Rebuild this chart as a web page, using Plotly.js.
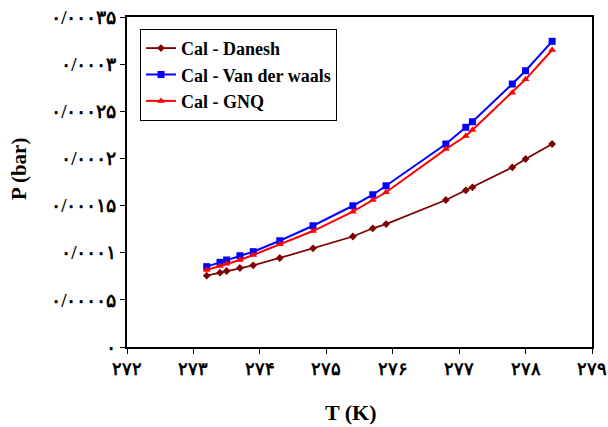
<!DOCTYPE html>
<html>
<head>
<meta charset="utf-8">
<script src="https://cdn.plot.ly/plotly-3.0.1.min.js"></script>
<style>html,body{margin:0;padding:0;background:#fff;}</style>
</head>
<body>
<div id="chart" style="width:608px;height:427px;"></div>
<script>
var T = [273.2, 273.4, 273.5, 273.7, 273.9, 274.3, 274.8, 275.4, 275.7, 275.9, 276.8, 277.1, 277.2, 277.8, 278.0, 278.4];
var pDanesh = [7.56e-5, 7.88e-5, 8.06e-5, 8.38e-5, 8.66e-5, 9.44e-5, 10.47e-5, 11.72e-5, 12.59e-5, 13.04e-5, 15.59e-5, 16.62e-5, 16.94e-5, 19.06e-5, 19.94e-5, 21.53e-5];
var pVdw = [8.52e-5, 8.98e-5, 9.23e-5, 9.68e-5, 10.11e-5, 11.27e-5, 12.86e-5, 14.98e-5, 16.15e-5, 17.10e-5, 21.53e-5, 23.30e-5, 23.89e-5, 27.89e-5, 29.30e-5, 32.42e-5];
var pGnq = [8.17e-5, 8.59e-5, 8.83e-5, 9.23e-5, 9.76e-5, 10.89e-5, 12.30e-5, 14.35e-5, 15.59e-5, 16.41e-5, 20.99e-5, 22.38e-5, 23.01e-5, 26.97e-5, 28.39e-5, 31.50e-5];
var seriesNames = ['Cal - Danesh', 'Cal - Van der waals', 'Cal - GNQ'];
var xTickVals = [272, 273, 274, 275, 276, 277, 278, 279];
var xTickText = ['۲۷۲', '۲۷۳', '۲۷۴', '۲۷۵', '۲۷۶', '۲۷۷', '۲۷۸', '۲۷۹'];
var yTickVals = [0, 0.00005, 0.0001, 0.00015, 0.0002, 0.00025, 0.0003, 0.00035];
var yTickText = ['۰', '۰/۰۰۰۰۵', '۰/۰۰۰۱', '۰/۰۰۰۱۵', '۰/۰۰۰۲', '۰/۰۰۰۲۵', '۰/۰۰۰۳', '۰/۰۰۰۳۵'];
var xTitle = 'T (K)';
var yTitle = 'P (bar)';

var serif = '"Liberation Serif", "Times New Roman", serif';
var traces = [
  {x: T, y: pDanesh, name: seriesNames[0], mode: 'lines+markers',
   line: {color: '#800000', width: 1.8}, marker: {symbol: 'diamond', size: 6, color: '#800000'}},
  {x: T, y: pVdw, name: seriesNames[1], mode: 'lines+markers',
   line: {color: '#0000FF', width: 2}, marker: {symbol: 'square', size: 7, color: '#0000FF'}},
  {x: T, y: pGnq, name: seriesNames[2], mode: 'lines+markers',
   line: {color: '#FF0000', width: 2}, marker: {symbol: 'triangle-up', size: 7, color: '#FF0000'}}
];
var layout = {
  width: 608, height: 427,
  margin: {l: 127, r: 16, t: 17, b: 80},
  paper_bgcolor: '#fff', plot_bgcolor: '#fff',
  showlegend: true,
  legend: {x: 0.028, y: 0.964, xanchor: 'left', yanchor: 'top',
    bordercolor: '#000', borderwidth: 1, bgcolor: '#fff',
    font: {family: serif, size: 18, color: '#000', weight: 'bold'},
    itemwidth: 30, tracegroupgap: 0},
  xaxis: {range: [272, 279], tickvals: xTickVals, ticktext: xTickText,
    ticks: 'outside', ticklen: 5, tickcolor: '#000', showgrid: false, zeroline: false,
    showline: true, linecolor: '#000', linewidth: 1.5, mirror: true,
    ticklabeloverflow: 'allow',
    tickfont: {family: serif, size: 18, color: '#000', weight: 'bold'}},
  yaxis: {range: [0, 0.00035], tickvals: yTickVals, ticktext: yTickText,
    ticks: 'outside', ticklen: 5, tickcolor: '#000', showgrid: false, zeroline: false,
    showline: true, linecolor: '#000', linewidth: 1.5, mirror: true,
    ticklabeloverflow: 'allow',
    tickfont: {family: serif, size: 19, color: '#000', weight: 'bold'}},
  annotations: [
    {text: xTitle, xref: 'paper', yref: 'paper', x: (351 - 127) / 465, y: (347 - 412) / 330,
     xanchor: 'center', yanchor: 'middle', showarrow: false,
     font: {family: serif, size: 22, color: '#000', weight: 'bold'}},
    {text: yTitle, xref: 'paper', yref: 'paper', x: (19 - 127) / 465, y: (347 - 169) / 330,
     xanchor: 'center', yanchor: 'middle', showarrow: false, textangle: -90,
     font: {family: serif, size: 21, color: '#000', weight: 'bold'}}
  ]
};
Plotly.newPlot('chart', traces, layout, {displayModeBar: false});
</script>
</body>
</html>
